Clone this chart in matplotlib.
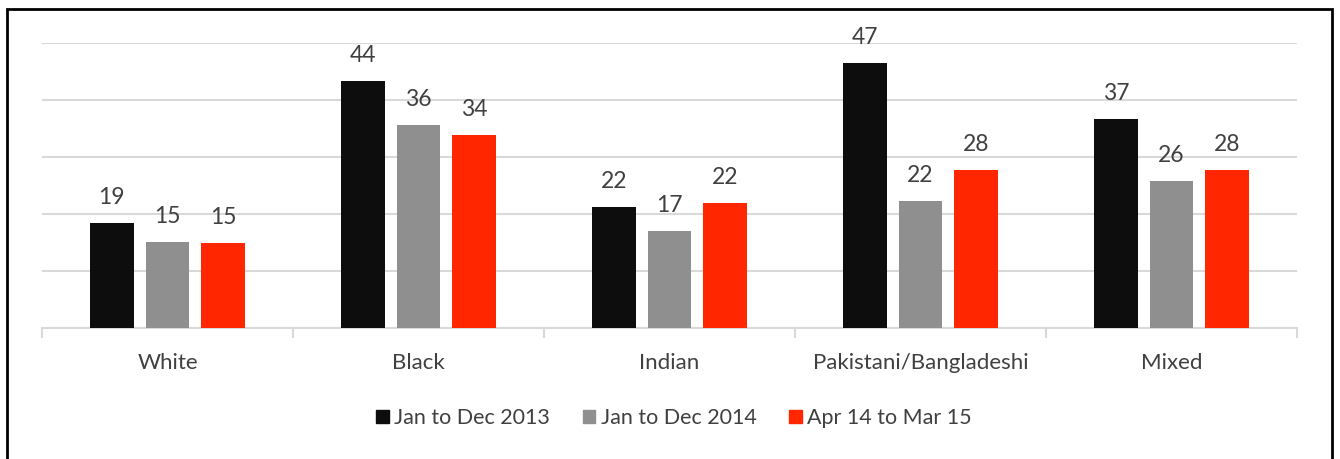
import matplotlib.pyplot as plt
import matplotlib.patches as mpatches
import numpy as np

categories = ['White', 'Black', 'Indian', 'Pakistani/Bangladeshi', 'Mixed']
series_names = ['Jan to Dec 2013', 'Jan to Dec 2014', 'Apr 14 to Mar 15']
vals_2013 = [18.5, 43.4, 21.3, 46.5, 36.7]
vals_2014 = [15.1, 35.6, 17.1, 22.3, 25.8]
vals_1415 = [14.9, 33.9, 21.9, 27.8, 27.8]
labels_2013 = ['19', '44', '22', '47', '37']
labels_2014 = ['15', '36', '17', '22', '26']
labels_1415 = ['15', '34', '22', '28', '28']
colors = ['#0d0d0d', '#8f8f8f', '#ff2600']

plt.rcParams['font.family'] = ['Lato', 'DejaVu Sans']
text_col = '#404040'
fs = 16

W, H = 1340, 459
fig = plt.figure(figsize=(W / 100, H / 100), dpi=100)
ax = fig.add_axes([42 / W, (H - 328) / H, (1297 - 42) / W, (328 - 43.3) / H])

x = np.arange(len(categories))
width = 0.175
step = 0.222
all_vals = [vals_2013, vals_2014, vals_1415]
all_labels = [labels_2013, labels_2014, labels_1415]
for i in range(3):
    pos = x + (i - 1) * step
    ax.bar(pos, all_vals[i], width=width, color=colors[i], zorder=3, label=series_names[i])
    for p, v, t in zip(pos, all_vals[i], all_labels[i]):
        ax.text(p, v + 2.6, t, ha='center', va='bottom', fontsize=fs + 0.5, color=text_col)

ax.set_xlim(-0.5, len(categories) - 0.5)
ax.set_ylim(0, 50)
ax.set_yticks(np.arange(0, 51, 10))
ax.yaxis.grid(True, color='#d9d9d9', linewidth=1.5, zorder=0)
ax.tick_params(axis='y', length=0, labelleft=False)

ax.set_xticks(np.arange(-0.5, len(categories), 1.0))
ax.set_xticklabels([])
ax.tick_params(axis='x', which='major', length=7, width=1.5, color='#d9d9d9')
ax.set_xticks(x, minor=True)
ax.set_xticklabels(categories, minor=True, fontsize=fs, color=text_col)
ax.tick_params(axis='x', which='minor', length=0, pad=18)

for s in ['top', 'right', 'left']:
    ax.spines[s].set_visible(False)
ax.spines['bottom'].set_color('#d9d9d9')
ax.spines['bottom'].set_linewidth(1.5)

handles = [mpatches.Patch(color=c, label=n) for c, n in zip(colors, series_names)]
leg = fig.legend(handles=handles, loc='center', bbox_to_anchor=(0.503, (H - 418) / H), ncol=3,
                 frameon=False, fontsize=fs - 0.5, handlelength=0.6, handleheight=0.6,
                 handletextpad=0.25, columnspacing=1.5)
for t in leg.get_texts():
    t.set_color(text_col)

fig.patches.append(mpatches.Rectangle((7 / W, -0.05), (1332 - 7) / W, (H - 9) / H + 0.05,
                                      transform=fig.transFigure, fill=False,
                                      edgecolor='black', linewidth=2))

fig.savefig('out.png', dpi=100)
